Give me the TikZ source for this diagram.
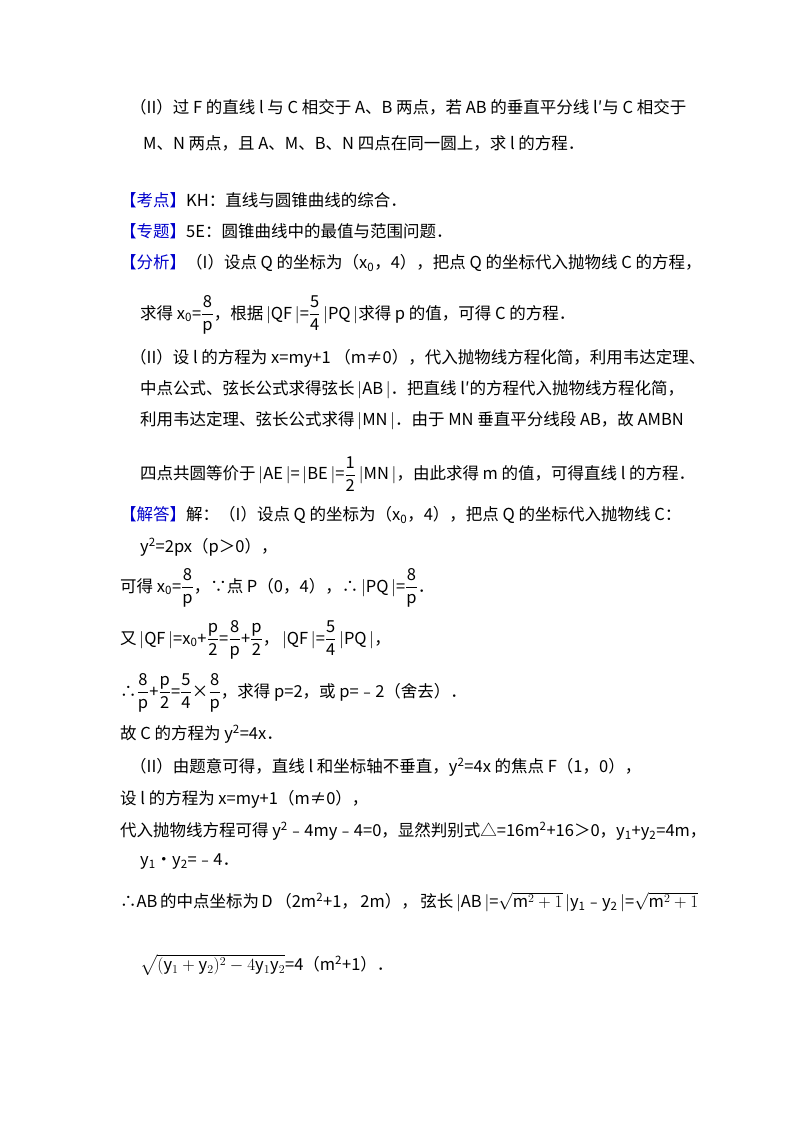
\documentclass[tikz,border=0pt]{standalone}
\usepackage{amsmath}
\usepackage{fontspec}
\setmainfont{Noto Sans CJK SC}
\newcommand{\lb}[1]{\textcolor{blue!80!black}{#1}}
\newcommand{\fr}[2]{$\dfrac{\mathrm{#1}}{\mathrm{#2}}$}
\newcommand{\ab}{\,$|$}
\begin{document}
\begin{tikzpicture}[x=1pt,y=-1pt,txt/.style={anchor=west,inner sep=0pt,font=\fontsize{16.5}{19}\selectfont}]
\useasboundingbox[fill=white] (0,0) rectangle (800,1133);
\node[txt] (n1) at (130,107) {（II）过 F 的直线 l 与 C 相交于 A、B 两点，若 AB 的垂直平分线 l′与 C 相交于};
\node[txt] (n2) at (143,143) {M、N 两点，且 A、M、B、N 四点在同一圆上，求 l 的方程．};
\node[txt] (n3) at (120,200) {\lb{【考点】}KH：直线与圆锥曲线的综合．};
\node[txt] (n4) at (120,231) {\lb{【专题】}5E：圆锥曲线中的最值与范围问题．};
\node[txt] (n5) at (120,263) {\lb{【分析】}（I）设点 Q 的坐标为（x\textsubscript{0}，4），把点 Q 的坐标代入抛物线 C 的方程，};
\node[txt] (n6) at (140,315) {求得 x\textsubscript{0}=\fr{8}{p}，根据\ab QF\ab=\fr{5}{4}\ab PQ\ab 求得 p 的值，可得 C 的方程．};
\node[txt] (n7) at (130,358) {（II）设 l 的方程为 x=my+1 （m≠0），代入抛物线方程化简，利用韦达定理、};
\node[txt] (n8) at (140,390) {中点公式、弦长公式求得弦长\ab AB\ab．把直线 l′的方程代入抛物线方程化简，};
\node[txt] (n9) at (140,421) {利用韦达定理、弦长公式求得\ab MN\ab．由于 MN 垂直平分线段 AB，故 AMBN};
\node[txt] (n10) at (140,474) {四点共圆等价于\ab AE\ab=\ab BE\ab=\fr{1}{2}\ab MN\ab，由此求得 m 的值，可得直线 l 的方程．};
\node[txt] (n11) at (120,515) {\lb{【解答】}解：（I）设点 Q 的坐标为（x\textsubscript{0}，4），把点 Q 的坐标代入抛物线 C：};
\node[txt] (n12) at (140,547) {y\textsuperscript{2}=2px（p＞0），};
\node[txt] (n13) at (120,588) {可得 x\textsubscript{0}=\fr{8}{p}，∵点 P（0，4），∴\ab PQ\ab=\fr{8}{p}．};
\node[txt] (n14) at (120,640) {又\ab QF\ab=x\textsubscript{0}+\fr{p}{2}=\fr{8}{p}+\fr{p}{2}，\ab QF\ab=\fr{5}{4}\ab PQ\ab，};
\node[txt] (n15) at (120,693) {∴\fr{8}{p}+\fr{p}{2}=\fr{5}{4}×\fr{8}{p}，求得 p=2，或 p=﹣2（舍去）．};
\node[txt] (n16) at (120,734) {故 C 的方程为 y\textsuperscript{2}=4x．};
\node[txt] (n17) at (130,767) {（II）由题意可得，直线 l 和坐标轴不垂直，y\textsuperscript{2}=4x 的焦点 F（1，0），};
\node[txt] (n18) at (120,799) {设 l 的方程为 x=my+1（m≠0），};
\node[txt] (n19) at (120,831) {代入抛物线方程可得 y\textsuperscript{2}﹣4my﹣4=0，显然判别式△=16m\textsuperscript{2}+16＞0，y\textsubscript{1}+y\textsubscript{2}=4m，};
\node[txt] (n20) at (140,862) {y\textsubscript{1}•y\textsubscript{2}=﹣4．};
\node[txt,text width=560pt,align=justify] (n21) at (120,902) {∴AB 的中点坐标为 D （2m\textsuperscript{2}+1， 2m）， 弦长\ab AB\ab=$\sqrt{\mathrm{m}^2+1}$\ab y\textsubscript{1}﹣y\textsubscript{2}\ab=$\sqrt{\mathrm{m}^2+1}$};
\node[txt] (n22) at (140,965) {$\sqrt{(\mathrm{y}_1+\mathrm{y}_2)^2-4\mathrm{y}_1\mathrm{y}_2}$=4（m\textsuperscript{2}+1）．};
\end{tikzpicture}
\end{document}
